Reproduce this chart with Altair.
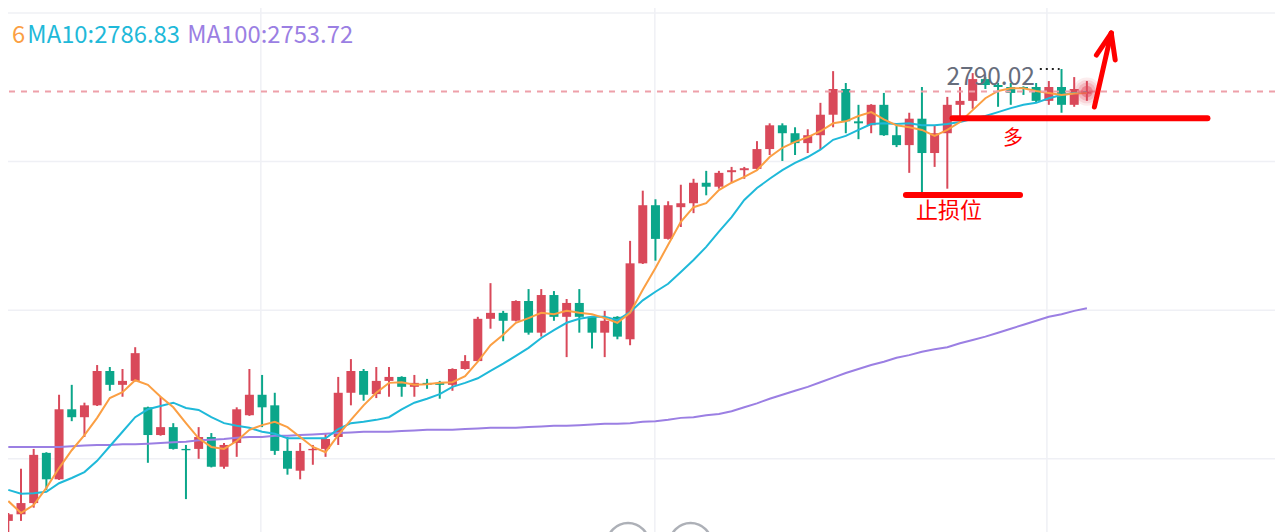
import altair as alt
import pandas as pd

# ---- candle data (price) ----
opens = [2721.6, 2722.6, 2724.3, 2731.9, 2727.9, 2738.5, 2737.3, 2739.1, 2744.3, 2742.2,
         2742.8, 2738.8, 2734.6, 2735.8, 2732.5, 2732.5, 2734.3, 2729.8, 2733.4, 2737.6,
         2740.7, 2739.1, 2732.2, 2729.2, 2732.3, 2732.5, 2734.3, 2741.0, 2744.3, 2740.8,
         2742.8, 2743.4, 2741.9, 2742.5, 2742.5, 2742.2, 2744.6, 2745.8, 2752.2, 2753.1,
         2751.9, 2754.9, 2750.1, 2755.8, 2752.5, 2754.6, 2752.5, 2750.1, 2752.5, 2749.1,
         2760.6, 2769.4, 2764.3, 2769.1, 2769.7, 2772.8, 2772.2, 2774.4, 2774.7, 2774.9,
         2777.9, 2781.5, 2780.3, 2778.8, 2780.0, 2783.1, 2787.0, 2782.1, 2781.5, 2784.6,
         2780.0, 2778.5, 2782.5, 2777.3, 2780.3, 2784.6, 2785.2, 2788.5, 2787.6, 2787.3,
         2787.3, 2787.3, 2785.2, 2787.3, 2784.6, 2786.3]
closes = [2722.6, 2724.3, 2731.6, 2727.9, 2738.5, 2737.3, 2739.1, 2744.3, 2742.2, 2742.8,
          2747.0, 2734.6, 2735.8, 2732.5, 2732.3, 2734.3, 2729.8, 2733.1, 2738.5, 2740.7,
          2738.8, 2732.2, 2729.5, 2732.2, 2732.5, 2734.0, 2741.0, 2744.3, 2740.7, 2742.8,
          2743.4, 2741.9, 2742.5, 2742.2, 2742.2, 2744.6, 2745.8, 2752.2, 2753.1, 2751.9,
          2754.9, 2750.1, 2755.8, 2752.5, 2754.6, 2752.5, 2750.1, 2751.9, 2749.5, 2760.6,
          2769.4, 2764.3, 2769.4, 2769.7, 2772.8, 2772.2, 2774.3, 2774.7, 2775.0, 2777.9,
          2781.5, 2780.3, 2778.8, 2780.0, 2783.1, 2787.0, 2782.1, 2781.8, 2784.6, 2780.0,
          2778.5, 2782.5, 2777.3, 2780.3, 2784.6, 2785.2, 2788.5, 2787.6, 2787.3, 2786.4,
          2787.0, 2785.2, 2787.3, 2784.6, 2787.0, 2786.6]
highs = [2722.8, 2729.5, 2732.5, 2732.0, 2740.7, 2742.2, 2739.5, 2745.2, 2744.9, 2744.6,
         2747.9, 2738.9, 2740.4, 2736.4, 2733.1, 2735.8, 2734.9, 2733.4, 2738.8, 2744.6,
         2743.7, 2741.0, 2734.3, 2733.4, 2733.1, 2734.9, 2743.4, 2746.1, 2744.6, 2744.9,
         2744.9, 2743.5, 2743.7, 2743.1, 2742.8, 2744.7, 2746.7, 2752.5, 2757.6, 2753.4,
         2755.0, 2756.7, 2756.7, 2756.4, 2755.2, 2756.7, 2752.6, 2753.4, 2752.6, 2764.0,
         2771.6, 2770.3, 2770.0, 2772.5, 2773.4, 2774.6, 2774.6, 2775.2, 2775.2, 2779.1,
         2781.8, 2781.8, 2781.2, 2780.9, 2784.9, 2789.7, 2787.9, 2784.6, 2784.7, 2786.4,
         2781.8, 2783.4, 2787.3, 2781.5, 2785.8, 2787.3, 2789.4, 2788.8, 2787.9, 2787.9,
         2787.4, 2787.9, 2788.2, 2790.02, 2788.8, 2788.2]
lows = [2719.5, 2721.6, 2723.6, 2726.3, 2727.8, 2736.7, 2734.3, 2739.0, 2741.3, 2740.4,
        2742.7, 2730.4, 2734.5, 2732.4, 2724.9, 2731.0, 2729.7, 2729.5, 2731.3, 2737.5,
        2735.8, 2731.6, 2728.6, 2727.9, 2730.1, 2731.3, 2733.1, 2739.1, 2739.8, 2740.2,
        2740.4, 2740.4, 2740.4, 2741.6, 2740.1, 2741.3, 2744.5, 2745.7, 2750.7, 2748.8,
        2751.8, 2749.8, 2749.5, 2751.9, 2746.4, 2750.1, 2747.7, 2746.4, 2749.1, 2748.2,
        2760.5, 2761.0, 2764.2, 2766.1, 2768.2, 2770.9, 2771.9, 2772.8, 2773.4, 2774.8,
        2777.0, 2776.1, 2777.0, 2777.3, 2777.9, 2781.2, 2780.3, 2779.4, 2780.3, 2779.9,
        2778.2, 2774.3, 2771.3, 2775.2, 2771.9, 2782.5, 2784.0, 2787.0, 2784.3, 2784.6,
        2786.1, 2784.9, 2784.6, 2783.4, 2784.3, 2785.2]

# ---- moving averages ----
ma5 = [2724.6, 2722.8, 2724.0, 2726.6, 2729.6, 2732.3, 2734.6, 2737.2, 2740.2, 2741.1,
       2742.9, 2742.2, 2740.4, 2738.8, 2736.4, 2734.1, 2732.8, 2732.5, 2733.7, 2735.4,
       2736.1, 2736.6, 2735.8, 2734.3, 2732.8, 2732.0, 2734.6, 2736.9, 2739.1, 2741.0,
       2742.5, 2742.6, 2742.2, 2742.3, 2742.5, 2742.6, 2743.5, 2745.7, 2748.2, 2749.8,
       2751.6, 2752.3, 2753.1, 2752.9, 2753.4, 2753.1, 2752.9, 2752.3, 2751.6, 2753.1,
       2756.6, 2759.9, 2763.4, 2766.9, 2769.1, 2769.7, 2771.7, 2772.8, 2773.7, 2774.7,
       2776.7, 2778.1, 2779.0, 2779.7, 2780.6, 2781.8, 2782.1, 2782.9, 2783.5, 2782.4,
       2781.5, 2781.2, 2780.8, 2779.9, 2780.8, 2782.0, 2783.8, 2785.6, 2786.7, 2787.1,
       2787.1, 2786.7, 2786.4, 2786.1, 2786.3, 2786.4]
ma10 = [2726.3, 2725.7, 2725.8, 2726.0, 2727.3, 2728.1, 2729.0, 2730.7, 2732.9, 2735.1,
        2737.3, 2738.5, 2739.0, 2739.5, 2738.7, 2738.4, 2737.3, 2736.4, 2736.0, 2735.7,
        2735.1, 2734.8, 2734.1, 2734.1, 2734.1, 2734.1, 2735.5, 2736.4, 2736.6, 2736.9,
        2737.3, 2738.5, 2739.5, 2740.1, 2740.8, 2741.9, 2742.5, 2743.2, 2744.3, 2745.4,
        2746.6, 2747.8, 2749.3, 2750.5, 2751.6, 2752.2, 2752.5, 2752.5, 2752.0, 2753.2,
        2755.0, 2756.3, 2757.5, 2759.3, 2761.1, 2763.1, 2765.4, 2767.6, 2770.2, 2772.0,
        2773.4, 2774.7, 2775.8, 2776.7, 2777.8, 2779.3, 2779.9, 2780.8, 2781.7, 2781.8,
        2781.7, 2781.8, 2781.5, 2781.5, 2781.7, 2782.0, 2782.5, 2782.9, 2783.5, 2784.1,
        2784.6, 2784.9, 2785.6, 2786.1, 2786.4, 2786.5]
ma100 = [2732.8, 2732.8, 2732.8, 2732.8, 2732.8, 2732.9, 2733.0, 2733.1, 2733.1, 2733.2,
         2733.2, 2733.3, 2733.4, 2733.5, 2733.6, 2733.8, 2733.9, 2734.0, 2734.2, 2734.3,
         2734.3, 2734.5, 2734.5, 2734.6, 2734.7, 2734.8, 2734.9, 2735.0, 2735.1, 2735.1,
         2735.1, 2735.2, 2735.3, 2735.4, 2735.4, 2735.4, 2735.5, 2735.6, 2735.7, 2735.7,
         2735.7, 2735.8, 2735.9, 2736.0, 2736.0, 2736.1, 2736.2, 2736.3, 2736.3, 2736.4,
         2736.6, 2736.7, 2736.9, 2737.2, 2737.3, 2737.6, 2737.8, 2738.2, 2738.8, 2739.4,
         2740.1, 2740.7, 2741.3, 2741.9, 2742.6, 2743.3, 2744.0, 2744.6, 2745.2, 2745.7,
         2746.3, 2746.7, 2747.2, 2747.6, 2747.9, 2748.5, 2749.0, 2749.5, 2750.1, 2750.7,
         2751.3, 2751.9, 2752.5, 2752.9, 2753.4, 2753.8]

grid_prices = [2798.5, 2776.0, 2753.5, 2731.0]
grid_index = [19.9, 50.95, 81.85]
last_price = 2786.6
high_index = 83
high_text = "2790.02"
legend_texts = ["6", "MA10:2786.83", "MA100:2753.72"]

RED = "#d9495a"
GREEN = "#0ba68a"
C5, C10, C100 = "#fb9f43", "#1fb9d9", "#9b7fe3"
FONT = "Noto Sans CJK SC"

W, H = 1267, 524
xs = alt.Scale(domain=[0.37, 99.43], nice=False, zero=False)
ys = alt.Scale(domain=[2719.92, 2799.26], nice=False, zero=False)


def X(f, **kw):
    return alt.X(f, type="quantitative", scale=xs, axis=None, **kw)


def Y(f, **kw):
    return alt.Y(f, type="quantitative", scale=ys, axis=None, **kw)


n = len(opens)
candles = pd.DataFrame({
    "i": list(range(n)), "o": opens, "h": highs, "l": lows, "c": closes,
})
candles["dir"] = ["up" if c >= o else "down" for o, c in zip(opens, closes)]
candles["b0"] = candles[["o", "c"]].min(axis=1)
candles["b1"] = candles[["o", "c"]].max(axis=1)

mas = pd.DataFrame({"i": list(range(n)), "ma5": ma5, "ma10": ma10, "ma100": ma100})

col = alt.Color("dir:N", scale=alt.Scale(domain=["up", "down"], range=[RED, GREEN]), legend=None)

hgrid = alt.Chart(pd.DataFrame({"p": grid_prices})).mark_rule(
    color="#eff0f5", strokeWidth=1.5).encode(y=Y("p"))
vgrid = alt.Chart(pd.DataFrame({"i": grid_index})).mark_rule(
    color="#eff0f5", strokeWidth=1.5).encode(x=X("i"))

base_c = alt.Chart(candles)
wicks = base_c.mark_rule(strokeWidth=2).encode(x=X("i"), y=Y("l"), y2="h", color=col)
bodies = base_c.mark_bar(size=9).encode(x=X("i"), y=Y("b0"), y2="b1", color=col)

base_m = alt.Chart(mas)
l100 = base_m.mark_line(color=C100, strokeWidth=2).encode(x=X("i"), y=Y("ma100"))
l10 = base_m.mark_line(color=C10, strokeWidth=2).encode(x=X("i"), y=Y("ma10"))
l5 = base_m.mark_line(color=C5, strokeWidth=2).encode(x=X("i"), y=Y("ma5"))

price_line = alt.Chart(pd.DataFrame({"p": [last_price]})).mark_rule(
    color="#eea0a9", strokeWidth=2, strokeDash=[6, 6]).encode(y=Y("p"))

# legend text at top-left
leg = pd.DataFrame({
    "i": [0.3, 1.5, 14.1],
    "p": [2793.96, 2793.96, 2793.96],
    "t": legend_texts,
    "col": [C5, C10, C100],
})
leg_c = alt.Chart(leg).mark_text(
    align="left", baseline="alphabetic", font=FONT, fontSize=23.8).encode(
    x=X("i"), y=Y("p"), text="t:N", color=alt.Color("col:N", scale=None))

# highest price marker
hi_txt = alt.Chart(pd.DataFrame({"i": [80.9], "p": [2787.6], "t": [high_text]})).mark_text(
    align="right", baseline="alphabetic", font=FONT, fontSize=24.5,
    color="#676d7c").encode(x=X("i"), y=Y("p"), text="t:N")
hi_dots = alt.Chart(pd.DataFrame({"i": [81.29], "i2": [82.85], "p": [highs[high_index]]})).mark_rule(
    color="#222222", strokeWidth=2, strokeDash=[2, 4]).encode(x=X("i"), x2="i2", y=Y("p"))

# glow on last candle
glow_df = pd.DataFrame({"i": [n - 1], "p": [last_price]})
glows = [alt.Chart(glow_df).mark_point(shape="circle", filled=True, size=s, opacity=op,
                                       color="#e24a5c", strokeWidth=0).encode(x=X("i"), y=Y("p"))
         for s, op in [(800, 0.10), (550, 0.14), (330, 0.22), (140, 0.45)]]

# hand-drawn annotations
ann_lines = pd.DataFrame({
    "i": [74.41, 70.74],
    "i2": [94.5, 79.73],
    "p": [2782.56, 2770.94],
})
red_lines = alt.Chart(ann_lines).mark_rule(color="#ff0000", strokeWidth=6, strokeCap="round").encode(
    x=X("i"), x2="i2", y=Y("p"))

arrow = pd.DataFrame({
    "i": [85.59, 85.75, 86.92],
    "p": [2784.27, 2792.14, 2795.47],
    "i2": [86.92, 86.92, 87.23],
    "p2": [2795.47, 2795.47, 2791.39],
})
arrow_c = alt.Chart(arrow).mark_rule(color="#ff0000", strokeWidth=5, strokeCap="round").encode(
    x=X("i"), y=Y("p"), x2="i2", y2="p2")

labels = pd.DataFrame({
    "i": [79.18, 74.14],
    "p": [2779.42, 2768.45],
    "t": ["多", "止损位"],
    "s": [20, 22],
})
lab_c = alt.Chart(labels).mark_text(
    color="#ff0000", font=FONT, baseline="middle", align="center").encode(
    x=X("i"), y=Y("p"), text="t:N", size=alt.Size("s:Q", scale=None, legend=None))

# nav buttons at the bottom
btn = pd.DataFrame({"i": [48.84, 53.77], "p": [2718.1, 2718.1]})
btn_c = alt.Chart(btn).mark_point(shape="circle", filled=False, size=1764, strokeWidth=2.5,
                                  color="#8b909a").encode(x=X("i"), y=Y("p"))

chart = alt.layer(
    hgrid, vgrid, wicks, bodies, l100, l10, l5, price_line, hi_txt, hi_dots,
    *glows, red_lines, arrow_c, lab_c, leg_c, btn_c,
).properties(
    width=W, height=H, padding=0, autosize=alt.AutoSizeParams(type="none"),
    background="#ffffff",
).configure_view(strokeWidth=0)

chart.save("out.html", embed_options={"renderer": "svg", "actions": False})
